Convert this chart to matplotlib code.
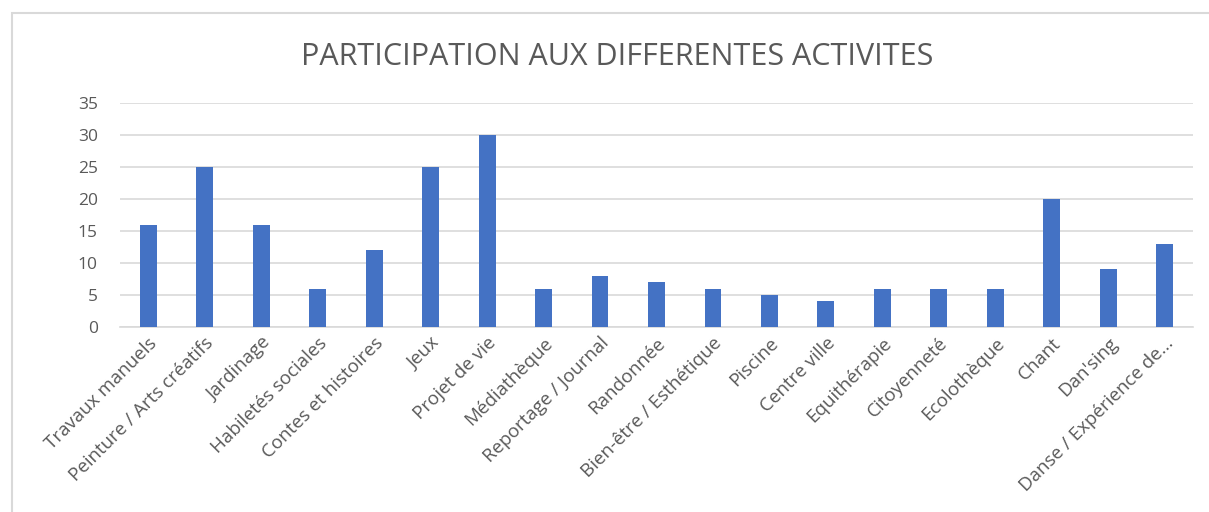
import numpy as np
import matplotlib.pyplot as plt
from matplotlib.patches import Rectangle

activites = ["Travaux manuels", "Peinture / Arts créatifs", "Jardinage", "Habiletés sociales",
             "Contes et histoires", "Jeux", "Projet de vie", "Médiathèque", "Reportage / Journal",
             "Randonnée", "Bien-être / Esthétique", "Piscine", "Centre ville", "Equithérapie",
             "Citoyenneté", "Ecolothèque", "Chant", "Dan'sing", "Danse / Expérience de..."]
participants = [16, 25, 16, 6, 12, 25, 30, 6, 8, 7, 6, 5, 4, 6, 6, 6, 20, 9, 13]
yticks = [0, 5, 10, 15, 20, 25, 30, 35]

plt.rcParams['font.family'] = ['Open Sans', 'DejaVu Sans']

fig = plt.figure(figsize=(12.09, 5.12), dpi=100)
# cadre du graphique
fig.patches.append(Rectangle((12/1209, -0.1), 1.1, 1 - 13/512 + 0.1, transform=fig.transFigure,
                             fill=False, edgecolor="#d9d9d9", linewidth=1.5))
ax = fig.add_axes([120/1209, 1 - 327/512, 1073/1209, 224/512])

x = np.arange(len(activites))
ax.bar(x, participants, width=0.3, color="#4472c4", zorder=3)

ax.set_xlim(-0.5, len(activites) - 0.5)
ax.set_ylim(0, 35)
ax.set_yticks(yticks)
ax.yaxis.grid(True, color="#d9d9d9", linewidth=1.2, zorder=0)
ax.tick_params(axis="y", length=0, labelsize=12.5, colors="#595959", pad=16)
ax.tick_params(axis="x", length=0, colors="#595959", pad=5)
ax.set_xticks(x)
ax.set_xticklabels(activites, rotation=45, ha="right", rotation_mode="anchor", fontsize=13.5)
for s in ["top", "right", "left"]:
    ax.spines[s].set_visible(False)
ax.spines["bottom"].set_color("#d9d9d9")
ax.spines["bottom"].set_linewidth(1.2)

fig.text(617/1209, 1 - 57/512, "PARTICIPATION AUX DIFFERENTES ACTIVITES", ha="center", va="center",
         fontsize=22, color="#595959")

fig.savefig("out.png", dpi=100)
